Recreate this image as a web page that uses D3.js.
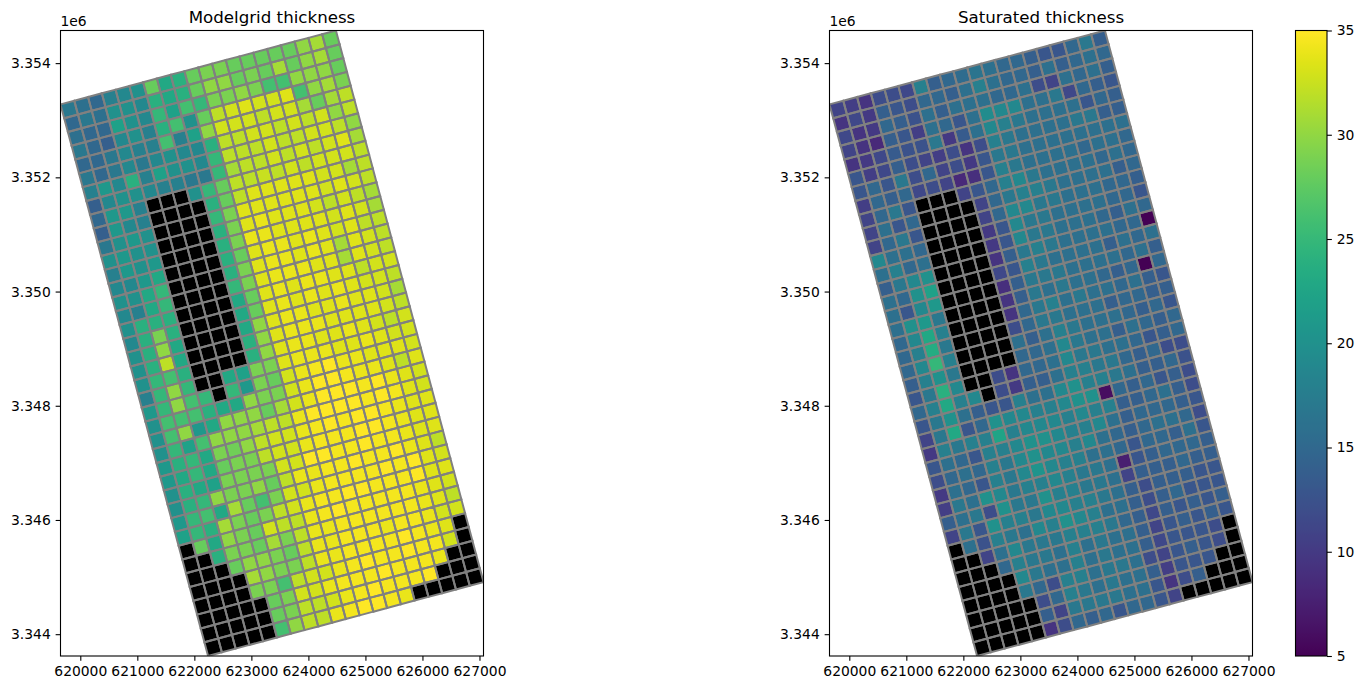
<!DOCTYPE html>
<html><head><meta charset="utf-8"><style>html,body{margin:0;padding:0;background:#fff}svg{display:block}text{font-family:"DejaVu Sans",sans-serif;fill:#000}</style>
<script src="https://cdn.jsdelivr.net/npm/d3@7"></script></head><body><svg id="c" width="1364" height="690"></svg>
<script>
const N = null;
const titles = ["Modelgrid thickness", "Saturated thickness"];
const xTicks = [620000,621000,622000,623000,624000,625000,626000,627000];
const yTicks = [3344000,3346000,3348000,3350000,3352000,3354000];
const cbTicks = [5,10,15,20,25,30,35];
const gridThickness = [
[17,16,15,18,19,20,28,23,24,28,29,29,28,28,28,28,28,30,31,28],
[15,17,16,20,20,19,24,23,24,28,30,30,28,29,28,31,28,30,31,28],
[16,15,15,22,20,19,25,22,26,25,29,29,30,29,26,26,30,30,30,28],
[17,15,14,19,20,18,24,26,20,28,32,33,33.5,33,33,33.5,26,30,31,29],
[15,15,17,19,18,18,26,18,22,30,33,33,33,32,33,33,31,28,31,32],
[17,15,17,19,17,19,20,19,19,24,32,32,33,33,32,33,32,33,30,32],
[18,21,19,24,18,22,20,20,19,25,32,32,32,33,32,32,33,33,32,30],
[14,19,20,20,19,18,18,17,17,25,31,32,32,33,32,33,32,33,33.5,31],
[15,21,21,18,N,N,N,20,25,28,32,32,32.5,32,33,32,33,33,33,32],
[14,21,19,18,N,N,N,N,24,28,32,33.5,33.5,33.5,33.5,33.5,33,33,31,32],
[17,20,21,20,N,N,N,N,25,29,33.5,33.5,33.5,33.5,33.5,33.5,33,33.5,33,32],
[20,21,20,20,N,N,N,N,24,29,33.5,34,33.5,33.5,33.5,33,32,33,32,31],
[18,21,20,21,N,N,N,N,24,29,34,34,33.5,33.5,33.5,33.5,33,33.5,33,31],
[19,19,21,23,N,N,N,N,24,28,33.5,34,34,33.5,34,33.5,33,33.5,32,32],
[20,20,23,25,N,N,N,N,24,29,33.5,34,34,33.5,34,33.5,31,33.5,33,32],
[19,18,23,25,N,N,N,N,25,29,33.5,34,34,34,33.5,33.5,31,33.5,33,32],
[20,24,24,24,N,N,N,N,23,28,33.5,34,33.5,34,34,33.5,33.5,32,33,33],
[19,24,29,24,N,N,N,N,23,28,33.5,34,33.5,34,33.5,34,33.5,33,33,32],
[20,24,30,23,N,N,N,N,23,30,33.5,34,34,33.5,33.5,34,33.5,33.5,33,31],
[20,24,32,23,N,N,N,N,24,30,33.5,34,34,34,33.5,33.5,33.5,33.5,33,32],
[20,25,26,24,N,N,N,N,24,30,33.5,34,34,33.5,33.5,34,33.5,33,32,33],
[18,25,30,25,N,N,23,22,29,29,33.5,34,34,34,33.5,33.5,34,33.5,33,33],
[21,25,30,26,25,N,25,21,29,28,33,34,34.5,35,34,34,33.5,33.5,33.5,33],
[20,26,26,26,24,23,23,30,29,29,33,34,35,35,34.5,34,34,33.5,32,33.5],
[20,26,30,21,23,30,30,30,28,31,33,34,35,35,35,34.5,35,34,33.5,33],
[20,25,22,26,30,30,30,31,32,32,34,35,35,35,35,34.5,35,34.5,33.5,33],
[21,24,25,23,29,28.5,30,32,33,33,34,34.5,35,34.5,35,35,34.5,34,33.5,33.5],
[21,23,25,23,28,29,29,32,33,33,34,34.5,34.5,34.5,35,35,34.5,34,33.5,33.5],
[20,24,23,22,29,29,29,29,33,33,35,35,34.5,34.5,35,34.5,34.5,34,33.5,33.5],
[20,24,25,30,29,29,30,28,32,34,34,34.5,34.5,35,34.5,34.5,35,34,33.5,32],
[21,25,26,23,31,28,26,29,33,33,34,34.5,34.5,34.5,34.5,35,34.5,35,33.5,33],
[22,25,24,31,29,28,29,32,33,34,34.5,34.5,35,35,34.5,34.5,34.5,35,33.5,33.5],
[N,28,23,30,29,28,33,32,32,34,34.5,35,34.5,34.5,34.5,34.5,34.5,34,33.5,33],
[N,N,24,29,29,28,31,29,32,34,34,34.5,34.5,34.5,34.5,34.5,34.5,34,33.5,32],
[N,N,N,28,30,30,29,28,32,34,34,34.5,34.5,34.5,34,34.5,34.5,34,33,33],
[N,N,N,N,31,30,29,29,32,34,34,34.5,34.5,34.5,34.5,35,34.5,34,33.5,N],
[N,N,N,N,29,29,26,32,33,33,34,34.5,35,34.5,34.5,35,34.5,34.5,33,N],
[N,N,N,N,N,28,29,33,33,34,34.5,34.5,34.5,35,34.5,34.5,34.5,34,N,N],
[N,N,N,N,N,28,29,32,32,33,34,34.5,35,34.5,34.5,34.5,35,N,N,N],
[N,N,N,N,N,26,30,32,32,34,34.5,35,35,34.5,34,N,N,N,N,N]
];
const satThickness = [
[11,10.5,9.5,12,12,11.5,18,14,15,15.5,16.5,16,15,15,14,13,13,15,17,14],
[9.5,11.5,10,14,13,12,15,15,14,16,18,16,15,15,14,16,14,15,16,15],
[11.5,9.5,10,15,14,12.5,16,14,16,16,16,15,15,16,12,11,16,15,16,14],
[11,9.5,8.5,14,13,10.5,16,15,13,16,19.5,19,19,16,16,17,11.5,15,14,13],
[9.5,10,11.5,13.5,12.5,12.5,17,10,13.5,16,19,18,17,16,16,16,16,13,15,14],
[13,10.5,11.5,14,12,11,10.5,12,9.5,12,18,17,16,16,16,16,17,17,14,14],
[13,15,13,17,12,15,11,12,10,13,17,17,16,16,16,16,16,16,16,16],
[10.5,15,14,15,11.5,12,11,8.5,9,13,18,17,16,16,16,16,15,16,16,15],
[11,15,17,13,N,N,N,11,13,15,18,19,17,16,16,16,16,15,16,15],
[11,16,13,15,N,N,N,N,11,15,17,18,18,17,16,16,16,16,14,15],
[11,15,17,13,N,N,N,N,11,15,19,19,17,17,16,16,16,15,15,14],
[19,16,16,15,N,N,N,N,10,13,19,17,17,16,16,16,16,15,15,13],
[16,18,15,16,N,N,N,N,10,13,19,17,17,16,16,16,15,14,16,15],
[14,17,19,20,N,N,N,N,9.5,14,17,18,17,16,16,16,16,15,15,5],
[16,15,20,22,N,N,N,N,11.5,13,18,17,16,16,16,16,14,16,15,16],
[16,13,19,21,N,N,N,N,9,14,17,17,17,16,16,16,16,15,16,14],
[16,20,21,17,N,N,N,N,9.5,14,17,16,17,16,16,15,14,15,5,15],
[15,19,23,18,N,N,N,N,9.5,15,17,18,16,17,16,16,15,16,14,13],
[15,18,23.5,17,N,N,N,N,12,15,17,17,16,16,16,14,15,15,14,14],
[15,19,25,18,N,N,N,N,16,14,16,18,17,16,16,16,15,14,15,13],
[14,18,20,17,N,N,N,N,15,15,16,19,17,16,16,14,16,15,14,15],
[13,17,24,19,N,N,12,9.5,15,15,16,19,17,17,16,16,15,13,14,15],
[15,18,23,18,19,N,12,10,14,14,16,18,18,17,17,15,14,15,12,12],
[13,17,20,16,14,13,13,18,16,16,19,20,18,18,17,16,14,14,15,12.5],
[11,17,23,13,15,20,19,19,18,18,19,20,20,6,15,14,15,13,14,12],
[10,18,17,18,18,22.5,18,19,19,19,18,19,18,18,14,14,15,16,14,12],
[13,16,15,13,18,18,19,20,20,19,18,18,19,16,14,15,15,15,14,13],
[12,15,16,15,18,17,19,20,19,19,18,19,16,15,14,15,16,16,15,12],
[10,16,15,13,18,17,19,20.5,19,18,18,16,16,15,13,15,15,14,16,13],
[10.5,17,16,20,19,17,18,18,19,18,17,17,16,7.5,13,14,15,15,15,14],
[14,16,17,12,20,17,17,20,18,18,17,17,16,11,14,14,14,15,14,14],
[11,17,13,20,18,18,17,19,19,18,18,17,16,14,12,14,14,14,13,13],
[N,16,12.5,18,17,16,19,18,20,19,18,16,16,14,12,14,15,13,13,13],
[N,N,11,16,19,17,17,17,18,18,18,17,15,14,11.5,14,13,14,13,14],
[N,N,N,15,18,17,17,16,18,16,17,16,16,14,11,13,14,13,14,13],
[N,N,N,N,19,17,16,16,18,16,17,16,16,14,11.5,13,13,13,12,N],
[N,N,N,N,17,15,12,18,18,16,17,17,16,12,11,13,14,13,12,N],
[N,N,N,N,N,12,15,18,17,16,17,16,16,14,10.5,13,13,13,N,N],
[N,N,N,N,N,14,11,17,17,17,17,16,16,13,9.5,12,14,N,N,N],
[N,N,N,N,N,9.5,12,15,14,15,13,15,15,13,11,N,N,N,N,N]
];
const FS = 13.89, TL = 4.86, SW = 1.1;
const svg = d3.select("#c");
const color = d3.scaleSequential(d3.interpolateViridis).domain([5,35]);
const xoff = 622241, yoff = 3343618, rot = 15*Math.PI/180, cell = 250;
const xDom = [xoff - 40*cell*Math.sin(rot), xoff + 20*cell*Math.cos(rot)];
const yDom = [yoff, yoff + 40*cell*Math.cos(rot) + 20*cell*Math.sin(rot)];
const nRows = gridThickness.length;
const wx = (c,r) => xoff + c*cell*Math.cos(rot) - (nRows-r)*cell*Math.sin(rot);
const wy = (c,r) => yoff + c*cell*Math.sin(rot) + (nRows-r)*cell*Math.cos(rot);

function panel(i, left, right, values){
  const top = 30.5, bottom = 656;
  const x = d3.scaleLinear().domain(xDom).range([left,right]);
  const y = d3.scaleLinear().domain(yDom).range([bottom,top]);
  svg.append("clipPath").attr("id","clip"+i).append("rect").attr("x",left).attr("y",top).attr("width",right-left).attr("height",bottom-top);
  const g = svg.append("g").attr("clip-path",`url(#clip${i})`);
  const cells = values.flatMap((row,r)=>row.map((v,c)=>({r,c,v})));
  const path = d => "M"+[[0,0],[1,0],[1,1],[0,1]].map(([a,b])=>[x(wx(d.c+a,d.r+b)),y(wy(d.c+a,d.r+b))].join(",")).join("L")+"Z";
  g.selectAll("path.cell").data(cells).join("path").attr("class","cell").attr("d",path)
    .attr("fill",d=>d.v===null?"#000":color(d.v)).attr("stroke","none");
  g.selectAll("path.line").data(cells).join("path").attr("class","line").attr("d",path)
    .attr("fill","none").attr("stroke","#808080").attr("stroke-width",2);
  const ax = svg.append("g").attr("transform",`translate(0,${bottom})`).call(d3.axisBottom(x).tickValues(xTicks).tickFormat(d3.format("d")).tickSize(TL).tickPadding(4.86));
  const ay = svg.append("g").attr("transform",`translate(${left},0)`).call(d3.axisLeft(y).tickValues(yTicks).tickFormat(d=>(d/1e6).toFixed(3)).tickSize(TL).tickPadding(4.86));
  for(const a of [ax,ay]){ a.select(".domain").remove(); a.selectAll("line").attr("stroke","#000").attr("stroke-width",SW); a.selectAll("text").attr("font-size",FS).attr("font-family","DejaVu Sans").attr("fill","#000"); }
  svg.append("rect").attr("x",left).attr("y",top).attr("width",right-left).attr("height",bottom-top).attr("fill","none").attr("stroke","#000").attr("stroke-width",SW);
  svg.append("text").attr("x",(left+right)/2).attr("y",23).attr("text-anchor","middle").attr("font-size",16.67).text(titles[i]);
  svg.append("text").attr("x",left).attr("y",26).attr("font-size",FS).text("1e6");
}
panel(0,60.5,483.5,gridThickness);
panel(1,829.5,1252.5,satThickness);

// colorbar
const cbL=1295.5, cbR=1327, cbT=30.5, cbB=656;
const cy = d3.scaleLinear().domain([5,35]).range([cbB,cbT]);
const defs = svg.append("defs");
const grad = defs.append("linearGradient").attr("id","vir").attr("x1",0).attr("x2",0).attr("y1",1).attr("y2",0);
grad.selectAll("stop").data(d3.range(0,257)).join("stop").attr("offset",d=>d/256).attr("stop-color",d=>d3.interpolateViridis(d/256));
svg.append("rect").attr("x",cbL).attr("y",cbT).attr("width",cbR-cbL).attr("height",cbB-cbT).attr("fill","url(#vir)");
const cb = svg.append("g").attr("transform",`translate(${cbR},0)`).call(d3.axisRight(cy).tickValues(cbTicks).tickSize(TL).tickPadding(4.86));
cb.select(".domain").remove(); cb.selectAll("line").attr("stroke","#000").attr("stroke-width",SW); cb.selectAll("text").attr("font-size",FS).attr("font-family","DejaVu Sans").attr("fill","#000");
svg.append("rect").attr("x",cbL).attr("y",cbT).attr("width",cbR-cbL).attr("height",cbB-cbT).attr("fill","none").attr("stroke","#000").attr("stroke-width",SW);
</script></body></html>
